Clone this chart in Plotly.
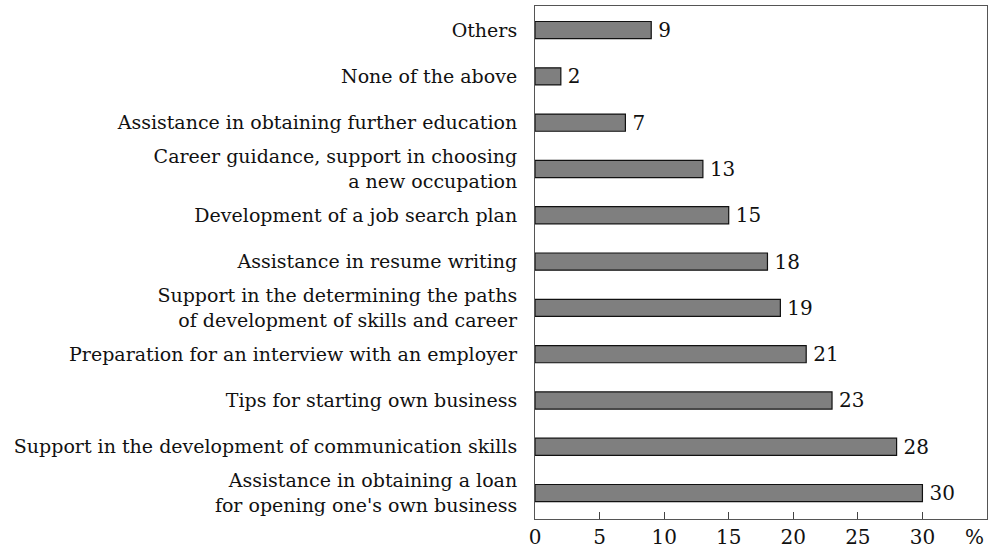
import plotly.graph_objects as go

categories = [
    "Assistance in obtaining a loan<br>for opening one's own business",
    "Support in the development of communication skills",
    "Tips for starting own business",
    "Preparation for an interview with an employer",
    "Support in the determining the paths<br>of development of skills and career",
    "Assistance in resume writing",
    "Development of a job search plan",
    "Career guidance, support in choosing<br>a new occupation",
    "Assistance in obtaining further education",
    "None of the above",
    "Others",
]
values = [30, 28, 23, 21, 19, 18, 15, 13, 7, 2, 9]
tick_vals = [0, 5, 10, 15, 20, 25, 30]
tick_text = ["0", "5", "10", "15", "20", "25", "30"]

FONT = "DejaVu Serif"

fig = go.Figure(go.Bar(
    x=values, y=categories, orientation="h",
    marker=dict(color="#7f7f7f", line=dict(color="#111111", width=1.2)),
    width=0.37,
    text=["\u2009" + str(v) for v in values], textposition="outside",
    constraintext="none",
    textfont=dict(family=FONT, size=20, color="#111111"),
    cliponaxis=False,
))

fig.update_layout(
    width=988, height=551,
    margin=dict(l=535, r=1, t=6, b=32, autoexpand=False),
    paper_bgcolor="white", plot_bgcolor="white",
    showlegend=False,
    font=dict(family=FONT, size=19, color="#111111"),
    xaxis=dict(
        range=[0, 35], tickvals=tick_vals, ticktext=tick_text,
        ticks="inside", ticklen=7, tickcolor="#444444", tickwidth=1,
        showline=True, linecolor="#555555", linewidth=1, mirror=True,
        showgrid=False, zeroline=False, automargin=False,
        tickfont=dict(family=FONT, size=20, color="#111111"),
    ),
    yaxis=dict(
        range=[-0.56, 10.52], showline=True, linecolor="#555555", linewidth=1,
        mirror=True, showgrid=False, ticks="", ticklabelstandoff=13,
        automargin=False,
        tickfont=dict(family=FONT, size=19, color="#111111"),
    ),
    annotations=[dict(
        x=34, y=0, xref="x", yref="paper", text="%", showarrow=False,
        yanchor="top", yshift=-4, font=dict(family=FONT, size=20, color="#111111"),
    )],
)

fig.write_html(
    "out.html",
    config={"displayModeBar": False},
    post_script="document.body.style.margin='0';document.body.style.overflow='hidden';",
)
